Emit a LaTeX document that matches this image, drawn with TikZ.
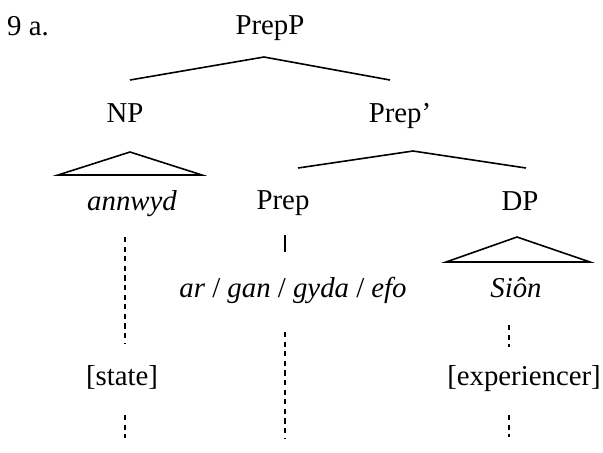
\documentclass[tikz,border=0pt]{standalone}
\usepackage{fontspec}
\setmainfont{Liberation Serif}
\usetikzlibrary{positioning}

\begin{document}
\begin{tikzpicture}[x=0.5pt, y=-0.5pt,
  lbl/.style={font=\fontsize{14.4}{16}\selectfont, inner sep=0pt, anchor=base},
  wd/.style={lbl, font=\fontsize{14.4}{16}\selectfont\itshape},
  br/.style={line width=0.8pt, line join=miter},
  lnk/.style={line width=0.75pt, dash pattern=on 2.6pt off 2.2pt}]
  \useasboundingbox (0,0) rectangle (603,452);
  % Labels of the tree
  \node[lbl] (ex)      at (28,35)   {9 a.};
  \node[lbl] (prepP)   at (270,34)  {PrepP};
  \node[lbl] (np)      at (125,122) {NP};
  \node[lbl] (prepbar) at (400,122) {Prep’};
  \node[wd]  (annwyd)  at (132,210) {annwyd};
  \node[lbl] (prep)    at (283,209) {Prep};
  \node[lbl] (dp)      at (520,210) {DP};
  \node[lbl] (ar)      at (293,297)
    {\textit{ar} / \textit{gan} / \textit{gyda} / \textit{efo}};
  \node[wd]  (sion)    at (516,297) {Siôn};
  \node[lbl] (state)   at (122,385) {[state]};
  \node[lbl] (exper)   at (524,385) {[experiencer]};
  % Branch points
  \coordinate (prepP-foot) at (264,57);
  \coordinate (np-top)     at (130,80);
  \coordinate (bar-top)    at (390,80);
  \coordinate (bar-foot)   at (413,151);
  \coordinate (prep-top)   at (298,168);
  \coordinate (dp-top)     at (526,168);
  % Branches
  \draw[br] (np-top) -- (prepP-foot) -- (bar-top);
  \draw[br] (prep-top) -- (bar-foot) -- (dp-top);
  % Triangles
  \coordinate (np-tip) at (130,152);
  \coordinate (np-l)   at (58,175);
  \coordinate (np-r)   at (202,175);
  \draw[br] (np-l) -- (np-tip) -- (np-r) -- cycle;
  \coordinate (dp-tip) at (517,237);
  \coordinate (dp-l)   at (446,262);
  \coordinate (dp-r)   at (590,262);
  \draw[br] (dp-l) -- (dp-tip) -- (dp-r) -- cycle;
  % Prep to its words
  \coordinate (prep-a) at (285,235);
  \coordinate (prep-b) at (285,252);
  \draw[br] (prep-a) -- (prep-b);
  % Dashed links to the roles
  \coordinate (nw-a) at (125,237);
  \coordinate (nw-b) at (125,343);
  \coordinate (nw-c) at (125,415);
  \coordinate (nw-d) at (125,438);
  \draw[lnk] (nw-a) -- (nw-b);
  \draw[lnk] (nw-c) -- (nw-d);
  \coordinate (pw-a) at (285,332);
  \coordinate (pw-b) at (285,438);
  \draw[lnk] (pw-a) -- (pw-b);
  \coordinate (sw-a) at (509,325);
  \coordinate (sw-b) at (509,347);
  \coordinate (sw-c) at (509,415);
  \coordinate (sw-d) at (509,437);
  \draw[lnk] (sw-a) -- (sw-b);
  \draw[lnk] (sw-c) -- (sw-d);
\end{tikzpicture}
\end{document}
